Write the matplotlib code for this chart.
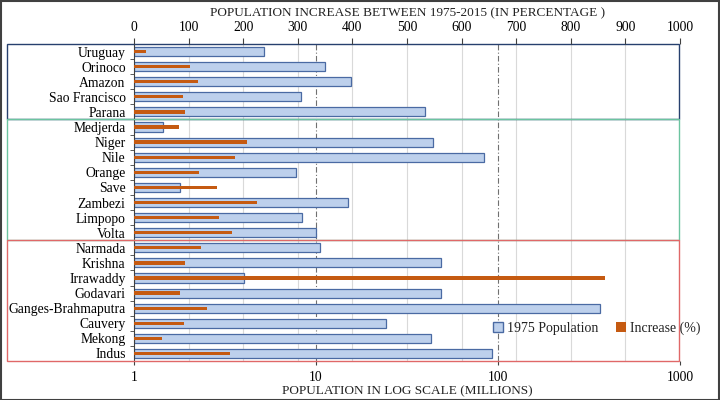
import matplotlib
matplotlib.use("Agg")
from matplotlib import pyplot as plt
from matplotlib.patches import Rectangle, Patch
from matplotlib.transforms import blended_transform_factory

rivers = ["Uruguay", "Orinoco", "Amazon", "Sao Francisco", "Parana",
          "Medjerda", "Niger", "Nile", "Orange", "Save", "Zambezi", "Limpopo", "Volta",
          "Narmada", "Krishna", "Irrawaddy", "Godavari", "Ganges-Brahmaputra",
          "Cauvery", "Mekong", "Indus"]
pop_1975 = [5.2, 11.2, 15.5, 8.3, 39.5,
            1.44, 44.2, 84, 7.8, 1.79, 14.9, 8.4, 10.0,
            10.5, 48.5, 4.0, 48.5, 365, 24.1, 43, 93]
increase = [22, 103, 118, 89, 94,
            82, 207, 185, 119, 152, 226, 155, 180,
            123, 93, 862, 84, 133, 91, 51, 176]
# (first row, last row, colour) of the three regional boxes
groups = [(0, 4, "#27406e"), (5, 12, "#6cc4a0"), (13, 20, "#e06868")]

plt.rcParams["font.family"] = ["Liberation Serif", "DejaVu Serif"]
plt.rcParams["font.size"] = 9.8
plt.rcParams["text.color"] = "#222222"

fig = plt.figure(figsize=(7.2, 4.0), dpi=100)
ax = fig.add_axes([134 / 720, 1 - 361 / 400, 546 / 720, 317 / 400])
ax2 = ax.twiny()
ax.set_zorder(1)
ax2.set_zorder(2)

y = list(range(len(rivers)))

ax.set_xscale("log")
ax.set_xlim(1, 1000)
ax2.set_xlim(0, 1000)
ax.set_ylim(len(rivers) - 0.5, -0.5)

# grid lines of the percentage axis, behind the bars
gtrans = blended_transform_factory(ax2.transData, ax.transAxes)
for v in range(100, 1000, 100):
    ax.plot([v, v], [0, 1], transform=gtrans, color="#d9d9d9", lw=0.8, zorder=0)
for v in [10, 100]:
    ax.axvline(v, color="#707070", lw=0.8, ls=(0, (5, 2, 1, 2)), zorder=0.5)

# log axis starts at 1, so bars run from 1 up to the value
ax.barh(y, [p - 1 for p in pop_1975], left=1, height=0.6, color="#bdd0ec",
        edgecolor="#4a6aa3", linewidth=0.9, zorder=2)
ax2.barh(y, increase, height=0.22, color="#c55a11", zorder=3)

ax.set_xticks([1, 10, 100, 1000])
ax.set_xticklabels(["1", "10", "100", "1000"])
ax.xaxis.set_minor_locator(matplotlib.ticker.NullLocator())
ax2.set_xticks(range(0, 1001, 100))
ax.tick_params(axis="x", length=3, color="#404040", pad=4)
ax2.tick_params(axis="x", length=4, color="#404040", pad=3)

ax.set_yticks(y)
ax.set_yticklabels(rivers, fontsize=9.8)
ax.set_yticks([i + 0.5 for i in y[:-1]], minor=True)
ax.tick_params(axis="y", which="major", length=0, pad=6)
ax.tick_params(axis="y", which="minor", length=3, color="#404040")

for a in (ax, ax2):
    for s in ["top", "right", "bottom"]:
        a.spines[s].set_visible(False)
ax2.spines["left"].set_visible(False)
ax.spines["left"].set_color("#404040")

btrans = blended_transform_factory(fig.transFigure, ax.transData)
for first, last, col in groups:
    ax.add_patch(Rectangle((7 / 720, first - 0.5), 673 / 720 - 0.001, last - first + 1,
                           transform=btrans, fill=False, edgecolor=col, lw=1.0,
                           clip_on=False, zorder=5))

fig.text(0.566, 0.968, "POPULATION INCREASE BETWEEN 1975-2015 (IN PERCENTAGE )",
         ha="center", va="center", fontsize=9.5)
fig.text(0.566, 0.022, "POPULATION IN LOG SCALE (MILLIONS)",
         ha="center", va="center", fontsize=9.5)

handles = [Patch(facecolor="#bdd0ec", edgecolor="#4a6aa3", label="1975 Population"),
           Patch(facecolor="#c55a11", label="Increase (%)")]
fig.legend(handles=handles, loc="center", bbox_to_anchor=(0.829, 0.18), ncol=2,
           frameon=False, handlelength=0.7, handleheight=0.7, handletextpad=0.3,
           columnspacing=1.3, fontsize=10)

fig.add_artist(Rectangle((0.001, 0.001), 0.998, 0.997, transform=fig.transFigure,
                         fill=False, edgecolor="#404040", lw=1.5))

fig.savefig("out.png", dpi=100)
